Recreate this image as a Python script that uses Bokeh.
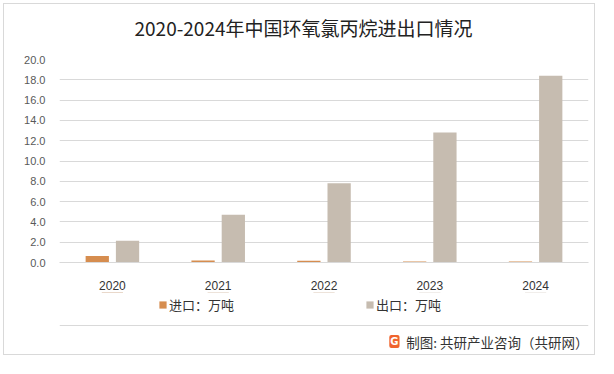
from bokeh.plotting import figure
from bokeh.layouts import column
from bokeh.models import (ColumnDataSource, FactorRange, Range1d, Legend, LegendItem,
                          Label, SingleIntervalTicker, NumeralTickFormatter)
from bokeh.transform import dodge
from bokeh.embed import file_html
from bokeh.resources import INLINE

years = ["2020", "2021", "2022", "2023", "2024"]
imports = [0.65, 0.2, 0.18, 0.1, 0.1]
exports = [2.15, 4.7, 7.8, 12.8, 18.4]
title = "2020-2024年中国环氧氯丙烷进出口情况"
import_name = "进口：万吨"
export_name = "出口：万吨"
credit = "制图: 共研产业咨询（共研网）"
logo = "G"

IMP_COLOR = "#D68D4F"
EXP_COLOR = "#C6BCB0"
FONT = "Noto Sans CJK SC"
GRID = "#D9D9D9"
W = 598


def bare(height, x_range, y_range):
    fig = figure(width=W, height=height, x_range=x_range, y_range=y_range,
                 x_axis_type=None, y_axis_type=None, output_backend="svg",
                 toolbar_location=None, min_border_left=59, min_border_right=10,
                 min_border_top=0, min_border_bottom=0)
    fig.grid.visible = False
    fig.outline_line_color = None
    fig.background_fill_alpha = 0
    fig.border_fill_alpha = 0
    return fig


src = ColumnDataSource(dict(year=years, imp=imports, exp=exports))

# header with the title
h = bare(44, Range1d(0, 1), Range1d(0, 1))
h.add_layout(Label(x=244, y=17, x_units="screen", y_units="screen", text=title,
                   text_font=FONT, text_font_size="19px", text_color="#222222",
                   text_align="center", text_baseline="middle"))

# main chart
p = figure(width=W, height=248, x_range=FactorRange(*years), y_range=Range1d(0, 20),
           output_backend="svg", toolbar_location=None,
           min_border_left=59, min_border_right=10, min_border_top=15, min_border_bottom=29)
p.vbar(x=dodge("year", -0.143, range=p.x_range), top="imp", width=0.22, source=src,
       color=IMP_COLOR, line_color=None)
p.vbar(x=dodge("year", 0.143, range=p.x_range), top="exp", width=0.22, source=src,
       color=EXP_COLOR, line_color=None)

p.outline_line_color = None
p.background_fill_alpha = 0
p.border_fill_alpha = 0
p.xgrid.grid_line_color = None
p.ygrid.grid_line_color = GRID
p.yaxis.ticker = SingleIntervalTicker(interval=2)
p.yaxis.formatter = NumeralTickFormatter(format="0.0")
p.yaxis.axis_line_color = None
p.yaxis.major_tick_line_color = None
p.yaxis.minor_tick_line_color = None
p.yaxis.major_label_text_font = "Liberation Sans"
p.yaxis.major_label_text_font_size = "11px"
p.yaxis.major_label_text_color = "#595959"
p.yaxis.major_label_standoff = 8
p.xaxis.axis_line_color = GRID
p.xaxis.major_tick_line_color = None
p.xaxis.minor_tick_line_color = None
p.xaxis.major_label_text_font = "Liberation Sans"
p.xaxis.major_label_text_font_size = "12px"
p.xaxis.major_label_text_color = "#333333"
p.xaxis.major_label_standoff = 12

# footer: legend, separator line, source credit
f = bare(66, FactorRange(*years), Range1d(-66, 0))
# zero-height proxies (above the visible range) that carry the legend swatches
k1 = f.vbar(x="year", top="imp", bottom="imp", width=0.2, source=src,
            color=IMP_COLOR, line_color=None)
k2 = f.vbar(x="year", top="exp", bottom="exp", width=0.2, source=src,
            color=EXP_COLOR, line_color=None)
legend = Legend(items=[LegendItem(label=import_name, renderers=[k1]),
                       LegendItem(label=export_name, renderers=[k2])],
                orientation="horizontal", location=(99, 44), spacing=96, label_width=100,
                glyph_width=9, glyph_height=9, label_text_font=FONT,
                label_text_font_size="13px", label_text_color="#333333",
                border_line_color=None, background_fill_alpha=0, padding=0, margin=0,
                label_standoff=2)
f.add_layout(legend, "center")

f.hspan(y=[-33], line_color=GRID, line_width=1)
f.add_layout(Label(x=529, y=17, x_units="screen", y_units="screen", text=credit,
                   text_font=FONT, text_font_size="13.5px", text_color="#333333",
                   text_align="right", text_baseline="middle"))
f.add_layout(Label(x=340, y=17, x_units="screen", y_units="screen", text=logo,
                   text_font="DejaVu Sans", text_font_size="10px", text_font_style="bold",
                   text_color="white", text_align="right", text_baseline="middle",
                   background_fill_color="#F0642D", padding=1, border_radius=2))

layout = column(h, p, f, spacing=0,
                styles={"outline": "1px solid #D9D9D9", "outline-offset": "-4px"})

open("out.html", "w").write(file_html(layout, INLINE))
